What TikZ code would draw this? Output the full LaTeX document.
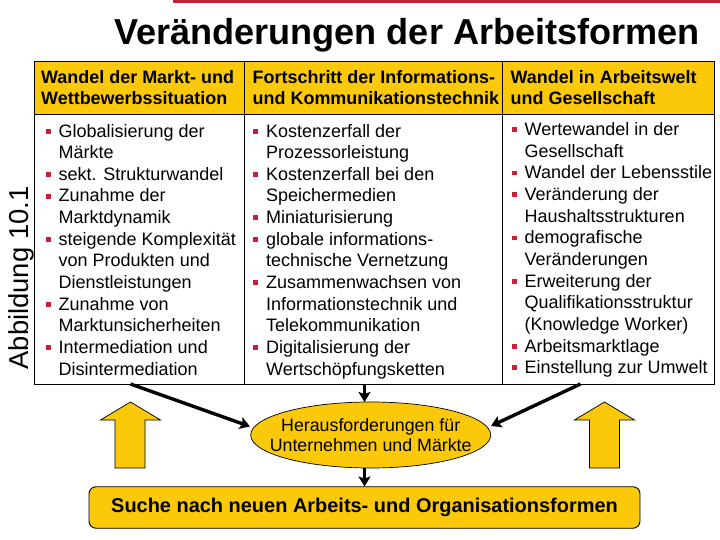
\documentclass[tikz,border=0pt]{standalone}
\usepackage{fontspec}
\setmainfont{Liberation Sans}
\usetikzlibrary{shapes.geometric,arrows.meta}
\definecolor{gelb}{HTML}{FBC909}
\definecolor{rot}{HTML}{C8203A}
\newcommand{\bl}{\makebox[0pt][r]{\textcolor{rot}{\rule[3.4pt]{4.8pt}{4.8pt}}\hspace{8.2pt}}}
\tikzset{
  cell/.style={draw=black,line width=0.9pt,inner sep=0,outer sep=0,anchor=north west},
  headcell/.style={cell,fill=gelb},
  headtext/.style={anchor=north west,inner sep=0,align=left,font=\fontsize{17.95}{21}\selectfont\bfseries},
  bodytext/.style={anchor=north west,inner sep=0,align=left,font=\fontsize{18}{21.65}\selectfont},
  flow/.style={line width=3.4pt,-{Stealth[length=10pt,width=12pt,inset=2pt]}},
  uparrow/.style={draw=black,line width=0.7pt,fill=gelb}
}
\begin{document}
\begin{tikzpicture}[x=1pt,y=-1pt]
\useasboundingbox (0,0) rectangle (720,540);
\fill[white] (0,0) rectangle (720,540);
\fill[rot] (173,0) rectangle (720,3);
\node[anchor=base,inner sep=0,font=\fontsize{36.1}{40}\selectfont\bfseries] (title) at (407,44.5) {Veränderungen der Arbeitsformen};
% table
\node[headcell,minimum width=210pt,minimum height=53.5pt] (h1) at (34.5,61) {};
\node[headcell,minimum width=258pt,minimum height=53.5pt] (h2) at (244.5,61) {};
\node[headcell,minimum width=212pt,minimum height=53.5pt] (h3) at (502.5,61) {};
\node[cell,minimum width=210pt,minimum height=269.5pt] (b1) at (34.5,114.5) {};
\node[cell,minimum width=258pt,minimum height=269.5pt] (b2) at (244.5,114.5) {};
\node[cell,minimum width=212pt,minimum height=269.5pt] (b3) at (502.5,114.5) {};
\node[anchor=base,rotate=90,inner sep=0,font=\fontsize{27.4}{30}\selectfont] (abb) at (28,278) {Abbildung 10.1};
\node[headtext] (ht1) at (41,70) {Wandel der Markt- und\\Wettbewerbssituation};
\node[headtext] (ht2) at (252.5,70) {Fortschritt der Informations-\\und Kommunikationstechnik};
\node[headtext] (ht3) at (510.5,70) {Wandel in Arbeitswelt\\und Gesellschaft};
\node[bodytext] (t1) at (58.5,123.8) {\bl Globalisierung der\\Märkte\\\bl sekt. Strukturwandel\\\bl Zunahme der\\Marktdynamik\\\bl steigende Komplexität\\von Produkten und\\Dienstleistungen\\\bl Zunahme von\\Marktunsicherheiten\\\bl Intermediation und\\Disintermediation};
\node[bodytext] (t2) at (266,123.8) {\bl Kostenzerfall der\\Prozessorleistung\\\bl Kostenzerfall bei den\\Speichermedien\\\bl Miniaturisierung\\\bl globale informations-\\technische Vernetzung\\\bl Zusammenwachsen von\\Informationstechnik und\\Telekommunikation\\\bl Digitalisierung der\\Wertschöpfungsketten};
\node[bodytext] (t3) at (524.5,122.3) {\bl Wertewandel in der\\Gesellschaft\\\bl Wandel der Lebensstile\\\bl Veränderung der\\Haushaltsstrukturen\\\bl demografische\\Veränderungen\\\bl Erweiterung der\\Qualifikationsstruktur\\(Knowledge Worker)\\\bl Arbeitsmarktlage\\\bl Einstellung zur Umwelt};
% ellipse and box
\node[ellipse,draw=black,line width=0.7pt,fill=gelb,minimum width=240pt,minimum height=66pt,inner xsep=-25pt,inner ysep=-8pt,align=center,font=\fontsize{17.8}{20}\selectfont] (chal) at (370.7,435) {Herausforderungen für\\Unternehmen und Märkte};
\node[draw=black,line width=0.9pt,fill=gelb,rounded corners=7pt,minimum width=551pt,minimum height=41.5pt,inner sep=0,font=\fontsize{19.95}{24}\selectfont\bfseries] (goal) at (364.5,507.5) {\raisebox{-1.5pt}{Suche nach neuen Arbeits- und Organisationsformen}};
% up arrows
\path[uparrow,draw] (115,468) -- (115,420) -- (100.5,420) -- (130.5,402) -- (160.5,420) -- (145,420) -- (145,468) -- cycle;
\path[uparrow,draw] (589.5,468) -- (589.5,420) -- (574.5,420) -- (604.5,402) -- (634.5,420) -- (619.5,420) -- (619.5,468) -- cycle;
% connectors
\coordinate (s1) at (130.5,384);
\coordinate (e1) at (250,426.5);
\coordinate (s2) at (364.5,384);
\coordinate (e2) at (364.5,402);
\coordinate (s3) at (364.5,468);
\coordinate (e3) at (364.5,486.5);
\coordinate (s4) at (580.5,384);
\coordinate (e4) at (491,426);
\draw[flow] (s1) -- (e1);
\draw[flow] (s2) -- (e2);
\draw[flow] (s3) -- (e3);
\draw[flow] (s4) -- (e4);
\end{tikzpicture}
\end{document}
